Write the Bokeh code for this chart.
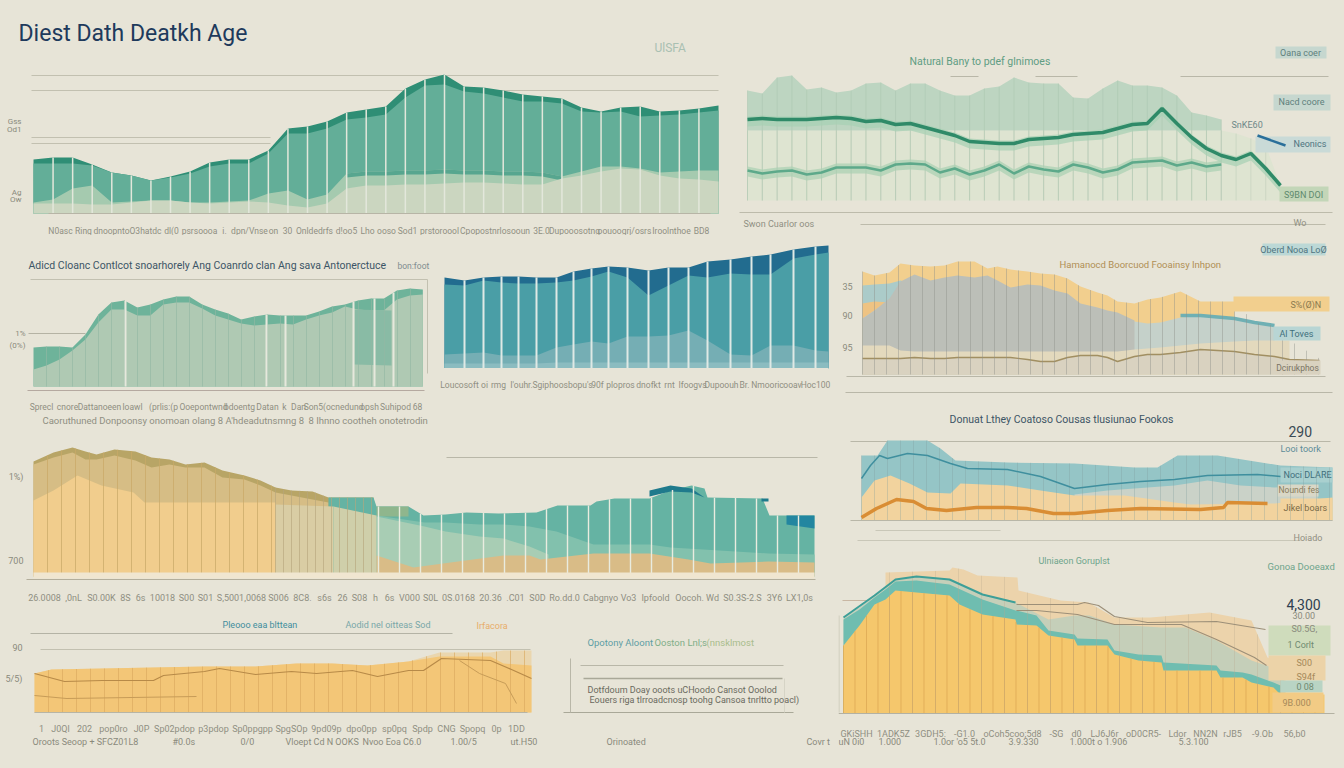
from bokeh.plotting import figure
from bokeh.layouts import row, column
from bokeh.models import Range1d, FixedTicker, AllLabels
from bokeh.core.properties import value
from bokeh.embed import file_html
from bokeh.resources import INLINE
import numpy as np

BG = "#e7e4d7"
FONT = "Roboto"

# ---------- data: panel A ----------
a_top = [54,56,56,49,41,38,33,37,42,51,54,54,63,85,87,92,101,104,107,125,134,139,127,126,123,119,117,115,106,102,106,107,102,103,105,108]
a_mid = [50,50,50,48,41,38,33,36,40,47,50,50,60,80,80,85,94,96,99,116,128,129,122,120,116,112,112,110,102,101,102,97,98,99,101,103]
a_lo1 = [11,14,25,28,11,12,13,13,11,11,12,13,20,23,14,19,40,42,42,43,43,44,43,43,42,42,41,37,42,47,47,45,41,42,43,43]
a_lo2 = [10,10,10,9,9,11,13,13,11,10,11,12,11,8,6,10,25,28,28,29,29,30,31,31,30,29,29,35,38,42,45,44,38,35,34,32]
a_ticks = ["N0asc","Ring","dnoopnto","O3hatdc","dl(0","psrsoooa","i.","dpn/Vnse","on","30","Onldedrfs","d!oo5","Lho","ooso","Sod1","prstoroool","Cpopostnrlos","ooun","3E.0","Dupooosotng","oouoogrj/osrs","Iroolnthoe","BD8"]

# ---------- data: panel G ----------
g_top = [110,107,123,125,111,113,108,110,117,118,110,117,117,110,105,105,112,114,123,118,117,117,103,102,112,120,115,115,113,105,88,85,81]
g_low = [70,70,70,70,70,70,70,70,70,70,70,70,70,70,70,70,70,70,70,70,70,70,70,70,70,70,70,70,70,70,70,70,70,67,62,55,15]
g_l1 = [81,82,81,81,81,82,83,82,79,80,76,77,73,69,65,59,58,57,57,61,62,63,66,67,68,72,76,77,92,77,63,52,45,41,47,32,15]
g_l2 = [30,27,29,30,26,28,33,33,33,30,36,37,36,28,32,26,30,36,27,34,31,29,36,33,28,31,38,39,40,35,38,34,36]

# ---------- data: panel B ----------
b_top = [39,40,40,39,52,72,84,86,79,82,87,90,90,82,77,73,67,70,72,71,71,71,75,80,82,86,88,88,96,98,97]
b_light = [17,21,27,36,47,64,77,77,71,71,82,84,84,78,71,67,63,61,62,63,62,67,71,74,80,77,76,76,87,91,92]
b_bandx = [321,358]
b_band = [77,76]
b_bandlow = [22,21]
b_white = [92,233,252,320,341,360]

# ---------- data: panel C ----------
c_x = [0,20,39,57,74,92,112,129,147,164,183,204,224,244,263,286,307,326,349,371,384]
c_top = [91,88,91,92,92,91,91,97,100,102,101,98,101,101,107,109,112,114,119,122,123]
c_mid = [84,83,88,86,85,85,86,88,92,97,91,73,83,93,91,95,94,94,110,114,116]
c_low = [14,15,16,13,13,13,21,24,27,25,32,32,33,38,28,14,13,23,23,18,17]
c_base = [5,5,5,5,5,5,6,6,6,6,6,6,6,6,6,6,6,6,6,6,6]

# ---------- data: panel H ----------
h_x = [0,12,27,38,52,68,82,95,112,125,135,148,165,178,192,205,218,235,245,255,272,285,298,318,338,372,392,412,427,457]
h_yellow = [103,99,102,111,109,108,109,113,113,106,108,105,103,101,100,96,88,82,79,73,71,75,77,83,73,73]
h_blue = [89,90,91,94,90]
h_yel2 = [71,73,72]
h_pale = [56,64,75,75,75,75,75,75,75,75,75,75,75,75,75,75,68,64,62,60,53,51,52,57,59,56,52,49]
h_gray = [56,64,76,93,100,94,97,99,97,99,94,87,90,89,84,81,71,67,64,62,54]
h_beige = [29,29,29,24,23,23,23,23,23,23,23,23,23,23,23,23,23,23,23,23,25,26,27,29,31,33,34,34,34]
h_tan = [16,16,16,16,17,16,16,17,17,17,17,17,15,13,13,17,19,19,17,13,18,20,20,22,25,23,20,18,15,14]

# ---------- data: panel D ----------
d_x = [0,20,39,52,63,81,102,118,136,152,171,189,211,227,242,258,279,295,319,340,343,375,390,412,433,465,503,524,557,563,581,616,637,658,671,674,729,736,753,781]
d_top = [115,124,129,125,122,127,125,119,117,112,114,106,101,96,89,86,85,79,79,79,70,70,61,62,64,63,64,71,71,75,78,78,86,91,88,79,78,61,61,61]
d_midtan = [112,119,124,117,117,121,116,109,112,109,109,99,97,91,84,81,77,74]
d_yx = [0,20,44,68,100,111,242]
d_yel = [76,86,101,91,84,74,74]
d_bx = [242,300]
d_blend = [72,70]
d_b2x = [300,343]
d_blend2 = [70,61]
d_rx = [343,391,412,446,470,496,523,560,581,616,637,735,781]
d_mid = [61,54,54,52,52,50,45,32,32,32,29,23,22]
d_px = [343,391,412,446,470,496,515]
d_pale = [60,50,45,40,38,30,22]
d_tx = [343,380,417,470,496,507,560,616,655,677,735,781]
d_tan = [21,9,14,21,21,17,23,23,17,13,15,14]

# ---------- data: panel I ----------
i_bx = [0,16,26,39,66,79,94,146,213,273,296,316,339,356,419,471]
i_blue = [65,65,80,80,80,72,60,58,57,53,53,65,65,65,55,53]
i_ox = [0,13,29,48,66,89,99,146,179,213,263,313,329,413,471]
i_orange = [23,40,45,37,28,27,37,35,30,25,25,18,16,17,23]
i_gx = [213,246,313,346,379,413,456]
i_grey = [26,30,35,40,35,33,35]
i_lx = [0,9,18,26,46,66,89,106,146,179,213,246,279,313,346,396,419]
i_line = [42,55,65,62,67,65,57,52,51,44,32,36,39,41,45,46,44]
i_ox2 = [0,15,35,52,65,85,115,146,165,192,213,246,279,339,362,366,406]
i_oline = [3,12,21,19,12,10,13,13,12,7,7,10,12,11,13,18,17]

# ---------- data: panel E ----------
e_x = [0,17,68,119,170,221,262,298,333,374,405,456,469,497]
e_area = [39,43,44,45,46,46,49,49,47,51,56,56,49,47]
e_peach = [39,43,44,45,46,46,49,49,47,51,60,60,62,62]
e_lx = [0,30,68,119,129,170,185,221,257,282,318,343,374,389,407,456,477,497]
e_l1 = [39,31,32,32,37,41,44,38,41,39,42,36,42,42,54,52,43,34]
e_l2x = [0,32,162]
e_l2 = [17,14,16]
e_l3x = [425,445,471,482]
e_l3 = [52,39,29,9]

# ---------- data: panel J ----------
j_x = [0,16,31,42,52,73,106,116,139,172,173,193,205,231,234,264,271,295,318,320,373,377,399,408,430,437,481]
j_yel = [68,88,109,114,123,121,118,109,99,94,89,88,78,74,68,68,59,53,51,43,43,36,36,31,26,19,19]
j_tx = [0,16,31,42,52,73,106,139,172,173,193,205,231,234,264,271,295,318,320,373,377,399,408,430,437]
j_teal = [94,104,116,124,132,133,129,114,103,103,98,83,79,75,74,63,59,58,51,48,43,41,39,31,28]
j_gx = [0,16,31,42,52,73,106,139,172,205,231,246,271,318,342,373,408,437,442]
j_grey = [96,106,118,126,134,137,134,119,111,94,98,98,89,86,86,73,53,43,29]
j_px = [42,106,109,120,134,174,175,217,245,271,307,366,408,424,442]
j_peach = [141,143,146,144,138,136,123,113,111,96,96,101,93,56,46]
j_ax = [173,234,241,255,271,304,373,422]
j_a = [109,109,111,108,97,91,92,84]
j_bx = [173,193,234,271,338,373,411,423]
j_b = [103,103,99,89,89,74,56,48]
j_lx = [0,31,52,73,106,139,172]
j_l = [96,118,134,137,134,119,111]


class Panel:
    """A tile of the page; data x = distance from the chart's left end, data y = height above baseline."""
    def __init__(self, x0, y0, x1, y1, xl, base):
        self.xl, self.base = xl, base
        self.p = figure(width=x1-x0, height=y1-y0, output_backend="svg", toolbar_location=None,
                        x_range=Range1d(x0-xl, x1-xl), y_range=Range1d(base-y1, base-y0),
                        min_border=0, outline_line_color=None,
                        background_fill_color=BG, border_fill_color=BG)
        self.p.grid.visible = False
        self.p.xaxis.visible = False
        self.p.yaxis.visible = False

    def area(self, x, top, color, bottom=0, alpha=1.0):
        n = len(top)
        self.p.varea(x=list(x)[:n], y1=[bottom]*n if np.isscalar(bottom) else list(bottom)[:n], y2=top,
                     fill_color=color, fill_alpha=alpha)

    def line(self, x, y, color, w=1.0, alpha=1.0):
        self.p.line(list(x)[:len(y)], y, line_color=color, line_width=w, line_alpha=alpha)

    def seps(self, xs, ex, ey, color, w=1.0, alpha=1.0):
        xs = np.asarray(xs, float)
        self.p.segment(xs, 0*xs, xs, np.interp(xs, ex, ey), line_color=color, line_width=w, line_alpha=alpha)

    def rule(self, px0, px1, py, color="#b9b7a8", w=1.0):
        self.p.line([px0-self.xl, px1-self.xl], [self.base-py]*2, line_color=color, line_width=w)

    def vrule(self, px, py0, py1, color="#b9b7a8", w=1.0):
        self.p.line([px-self.xl]*2, [self.base-py0, self.base-py1], line_color=color, line_width=w)

    def box(self, px0, px1, py0, py1, color, alpha=1.0):
        self.p.quad(left=[px0-self.xl], right=[px1-self.xl], top=[self.base-py0], bottom=[self.base-py1],
                    fill_color=color, fill_alpha=alpha, line_color=None)

    def t(self, px, py, s, size=9, color="#8a8a7c", align="left", style="normal"):
        self.p.text([px-self.xl], [self.base-py], text=[s], text_font=value(FONT),
                    text_font_size=f"{size}px", text_color=color, text_align=align,
                    text_baseline="middle", text_font_style=style)

    def xstrip(self, words, px0, px1, axis_py, label_py, color="#8f8f82", size=8.5, axis_color="#b7b5a6", ax0=None, ax1=None):
        """Real x axis: one tick per word, set out by word length so the strip reads as a run of text."""
        lens = np.array([len(w)+2 for w in words], float)
        edges = np.concatenate([[0], np.cumsum(lens)]) / lens.sum() * (px1-px0)
        ticks = [int(round(px0-self.xl+(edges[i]+edges[i+1])/2)) for i in range(len(words))]
        ax = self.p.xaxis[0]
        ax.visible = True
        ax.fixed_location = self.base-axis_py
        ax.ticker = FixedTicker(ticks=ticks)
        ax.major_label_overrides = {k: w for k, w in zip(ticks, words)}
        ax.major_label_policy = AllLabels()
        ax.major_tick_line_color = None
        ax.minor_tick_line_color = None
        ax.major_label_text_font = FONT
        ax.major_label_text_font_size = f"{size}px"
        ax.major_label_text_color = color
        ax.major_label_standoff = int(label_py-axis_py-size/2-1)
        ax.axis_line_color = axis_color
        a0 = px0 if ax0 is None else ax0
        a1 = px1 if ax1 is None else ax1
        ax.bounds = (a0-self.xl, a1-self.xl)

    def yticks(self, labels, px, color="#8a8a7c", size=9):
        """Real y axis: labels is {pixel row: text}."""
        ax = self.p.yaxis[0]
        ax.visible = True
        ax.fixed_location = px-self.xl
        ticks = [int(self.base-k) for k in labels]
        ax.ticker = FixedTicker(ticks=ticks)
        ax.major_label_overrides = {t: s for t, s in zip(ticks, labels.values())}
        ax.major_label_policy = AllLabels()
        ax.major_tick_line_color = None
        ax.minor_tick_line_color = None
        ax.axis_line_color = None
        ax.major_label_text_font = FONT
        ax.major_label_text_font_size = f"{size}px"
        ax.major_label_text_color = color
        ax.major_label_standoff = 2


# ---------- A ----------
A = Panel(0, 0, 738, 235, 33, 213)
A.t(18, 33, "Diest Dath Deatkh Age", 23, "#1e3a5c", style="normal")
A.t(654, 47, "UlSFA", 12, "#a9c0b2")
for py, e in [(75, 718), (90, 718), (137, 270), (143, 270)]:
    A.rule(31, e, py, "#c2c0b0", 1.2)
ax_ = np.arange(len(a_top))*685/35
A.area(ax_, a_top, "#2f8e75")
A.area(ax_, a_mid, "#63ae98")
A.area(ax_, a_lo1, "#a5caaf")
A.area(ax_[16:28], a_lo1[16:28], "#57a68f", bottom=np.array(a_lo1[16:28])-4)
A.area(ax_, a_lo2, "#cbd6c0")
A.seps(ax_[1:-1], ax_, a_top, "#e3e7db", 1.5)
A.xstrip(a_ticks, 48, 710, 213, 225)
A.yticks({121: "Gss", 129: "Od1", 192: "Ag", 199: "Ow"}, 29, size=8)

# ---------- G ----------
G = Panel(738, 0, 1336, 235, 747, 200)
gx = np.arange(37)*533/36
G.t(909, 61, "Natural Bany to pdef glnimoes", 10.5, "#5f9d83")
G.rule(950, 978, 76); G.rule(1035, 1077, 76); G.rule(1180, 1328, 76)
G.area(gx, g_low, "#dee4d1")
G.area(gx, g_top, "#bdd5c1", bottom=g_low)
G.seps(gx[:-1], gx, g_low, "#bfcdb9", 0.7, 0.8)
G.seps(gx[:33], gx[:33], g_top, "#a8c4ae", 0.7, 0.7)
G.area(gx, np.array(g_l1)+3, "#a7d0b4", bottom=np.array(g_l1)-7, alpha=0.7)
G.area(gx, np.array(g_l2)+4, "#a9d0b2", bottom=np.array(g_l2)-6, alpha=0.7)
G.line(gx, g_l1, "#2f8a68", 3.5)
G.line(gx, g_l2, "#5da98a", 2.5)
G.box(1275, 1326, 46, 58, "#c6d7cf"); G.t(1300, 52, "Oana coer", 9, "#5e7f7c", "center")
G.box(1273, 1330, 94, 110, "#c6d7cf"); G.t(1301, 101, "Nacd coore", 9, "#5e7f7c", "center")
G.t(1231, 124, "SnKE60", 9, "#6d8888")
G.box(1255, 1330, 136, 152, "#c9dad7"); G.t(1293, 143, "Neonics", 9, "#4f7480")
G.p.line([1257-747, 1285-747], [200-135, 200-145], line_color="#2a6f9a", line_width=2.5)
G.box(1279, 1328, 186, 201, "#c3d6b8"); G.t(1303, 194, "S9BN DOI", 9, "#5e8a6e", "center")
G.rule(739, 1332, 212, "#bdbbab")
G.rule(860, 1325, 224, "#bdbbab")
G.t(743, 223, "Swon Cuarlor oos", 9, "#8f8f82")
G.t(1293, 222, "Wo", 9, "#8f8f82")

# ---------- B ----------
B = Panel(0, 235, 438, 437, 33, 386)
bx_ = np.arange(31)*(1168/3)/30
B.t(28, 265, "Adicd Cloanc Contlcot snoarhorely Ang Coanrdo clan Ang sava Antonerctuce", 10.5, "#3c5566")
B.t(397, 265, "bon:foot", 8.5, "#7f8d90")
B.rule(30, 427, 279, "#c2c0b0"); B.vrule(427, 279, 373, "#c2c0b0")
B.rule(28, 85, 333, "#b5b3a4")
B.area(bx_, b_top, "#6eb39a")
B.area(bx_, b_light, "#afc9b3")
B.area(b_bandx, b_band, "#89bba5", bottom=b_bandlow)
B.seps(np.arange(1, 30)*13.0, bx_, b_top, "#93b8a4", 0.8, 0.8)
B.seps(b_white, bx_, b_top, "#e6e8dc", 2)
B.xstrip(["Sprecl","cnore","Dattanoeen","loawl","(prlis:(p","Ooepontwnd","bdoentg","Datan","k","Dan","Son5(ocnedund","opsh","Suhipod","68"],
         27, 424, 390, 401, axis_color="#b5a9a0")
B.t(42, 420, "Caoruthuned Donpoonsy onomoan olang 8 A'hdeadutnsmng 8", 9.5, "#8f8f82")
B.t(308, 420, "8 Ihnno cootheh onotetrodin", 9.5, "#8f8f82")
B.yticks({333: "1%", 345: "(0%)"}, 33, size=8)

# ---------- C ----------
C = Panel(438, 235, 838, 437, 444, 368)
C.area(c_x, c_top, "#226c8f")
C.area(c_x, c_mid, "#4a9ea6")
C.area(c_x, c_low, "#75aeb4")
C.area(c_x, c_base, "#8bbcc0")
C.seps(c_x[1:-1], c_x, c_top, "#dfe9e5", 2)
C.xstrip(["Loucosoft","oi","rmg","I'ouhr.","Sgiphoosbopu's","90f","plopros","dnofkt","rnt","Ifoogvs","Dupoouh","Br.","Nmooric","ooav","Hoc100"],
         441, 828, 368, 379, axis_color=BG)

# ---------- H ----------
H = Panel(838, 235, 1336, 405, 862, 374)
H.t(1059, 264, "Hamanocd Boorcuod Fooainsy Inhpon", 9.5, "#b08f55")
H.box(1262, 1325, 243, 255, "#bcd8d6"); H.t(1293, 249, "Oberd Nooa LoØ", 9, "#4f7480", "center")
H.area(h_x, h_yellow, "#f2cf8e")
H.area(h_x, h_blue, "#abcbc9")
H.area(h_x, h_yel2, "#eec383")
H.area(h_x, h_pale, "#c5d1ca")
H.area(h_x, h_gray, "#bcbfb8")
H.area(h_x, h_beige, "#e3d9bd")
H.area(h_x, h_tan, "#d9d2c0")
H.line(h_x, h_tan, "#a18f62", 1.4)
H.line(h_x[23:28], [59, 59, 56, 52, 49], "#6fb0b4", 3.5)
H.seps(np.arange(0, 460, 12.0), h_x, [max(a, b) for a, b in zip(h_yellow+h_pale[26:]+[34, 16], h_pale+[34, 16])], "#8f918a", 0.8, 0.55)
H.box(1233, 1329, 296, 311, "#f2cf8e"); H.t(1290, 304, "S%(Ø)N", 9, "#8b7a4e")
H.box(1273, 1320, 326, 340, "#b8d5d4"); H.t(1296, 333, "Al Toves", 9, "#3f6f7c", "center")
H.box(1274, 1320, 360, 374, "#d9d2c0"); H.t(1297, 367, "Dcirukphos", 8.5, "#7a7464", "center")
H.yticks({286: "35", 315: "90", 347: "95"}, 860)
H.xstrip(["·"], 846, 1325, 376, 388, color=BG, axis_color="#b9b7a8")
H.rule(845, 1332, 392)

# ---------- D ----------
D = Panel(0, 437, 838, 610, 33, 576)
D.rule(446, 817, 457, "#b9b7a8", 1.2)
D.area(d_x[:20], d_top[:20], "#b8a566")
D.area(d_x[:18], d_midtan, "#d6bd85")
D.area(d_x[17:], d_top[17:], "#65b3a3")
D.area(d_x[20:22], [70, 70], "#8fb68d", bottom=[60, 60])
D.area(d_rx, d_mid, "#82c1ad")
D.area(d_px, d_pale, "#a8cdb4")
D.area(d_bx, d_blend, "#d9cda4")
D.area(d_b2x, d_blend2, "#cfcfaa")
D.area(d_yx, d_yel, "#f1cd8d")
D.area(d_tx, d_tan, "#d9bc87")
D.area(d_x[31:35], [86, 91, 88, 79], "#1f7a8c", bottom=[80, 85, 84, 79])
D.area([728, 735], [78, 78], "#1f7a8c", bottom=[75, 75])
D.area([753, 781], [61, 61], "#2386a0", bottom=[52, 48])
D.seps(np.arange(14, 242, 14.0), d_x, d_top, "#c9a967", 0.9, 0.8)
D.seps(np.arange(242, 345, 8.0), d_x, d_top, "#b5a67c", 0.9, 0.7)
D.seps(np.arange(345, 780, 21.0), d_x, d_top, "#e9ecdf", 1.4)
D.box(33, 814, 572, 578, "#f0e6d0")
D.xstrip(["26.0008",",0nL","S0.00K","8S","6s","10018","S00","S01","S,5001,0068","S006","8C8.","s6s","26","S08","h","6s","V000","S0L","0S.0168","20.36",".C01","S0D","Ro.dd.0","Cabgnyo","Vo3","Ipfoold","Oocoh.","Wd","S0.3S-2.S","3Y6","LX1,0s"],
         26, 815, 579, 592, axis_color="#b3ae9b", size=9)
D.yticks({476: "1%)", 560: "700"}, 31)

# ---------- I ----------
I = Panel(838, 405, 1336, 548, 861, 520)
I.t(949, 419, "Donuat Lthey Coatoso Cousas tlusiunao Fookos", 10.5, "#3d5566")
I.rule(850, 1330, 441)
I.t(1288, 431, "290", 14, "#3a4a55")
I.t(1280, 448, "Looi toork", 9, "#5d8c98")
I.area(i_bx, i_blue, "#95c5c6")
I.area(i_gx, i_grey, "#cad2c8", bottom=0)
I.area(i_ox, i_orange, "#f2d39e")
I.box(1280, 1332, 467, 482, "#a9d0cf"); I.t(1283, 474, "Noci DLARE", 9, "#3f6f7c")
I.box(1277, 1318, 484, 496, "#d9d7c6"); I.t(1278, 489, "Noundi fes", 8.5, "#8a7c5c")
I.box(1280, 1332, 498, 520, "#f2d39e"); I.t(1283, 507, "Jikel boars", 9, "#7a6b46")
I.seps(np.arange(0, 470, 13.0), i_bx, i_blue, "#7e9b9d", 0.7, 0.45)
I.line(i_lx, i_line, "#3f8f9e", 1.5)
I.line(i_ox2, i_oline, "#d98d34", 3.5)
I.xstrip(["·"], 850, 1332, 520, 530, color=BG, axis_color="#b9b7a8")
I.rule(875, 1000, 530, "#c9c7b8")
I.rule(857, 1300, 540, "#c9c7b8")
I.t(1293, 537, "Hoiado", 9, "#8f8f82")

# ---------- E ----------
E = Panel(0, 610, 548, 760, 34, 712)
E.t(222, 624, "Pleooo eaa blttean", 9, "#3f8e9d")
E.t(345, 624, "Aodid nel oitteas Sod", 9, "#79a7a8")
E.t(476, 625, "Irfacora", 9, "#e8ad6a")
E.rule(30, 452, 633, "#b4b3a5", 1.2)
E.rule(40, 530, 649, "#c2c0b0")
E.area(e_x, e_peach, "#ead6ae")
E.area(e_x, e_area, "#f3c677")
E.seps(np.arange(14, 497, 14.0), e_x, e_peach, "#d9a95f", 0.8, 0.8)
E.line(e_lx, e_l1, "#b78a48", 1.2)
E.line(e_l2x, e_l2, "#c79c58", 1.2)
E.line(e_l3x, e_l3, "#c79c58", 1.0)
E.xstrip(["1","J0Ql","202","pop0ro","J0P","Sp02pdop","p3pdop","Sp0ppgpp","SpgSOp","9pd09p","dpo0pp","sp0pq","Spdp","CNG","Spopq","0p","1DD"],
         34, 527, 712, 723, size=9)
E.yticks({647: "90", 678: "5/5)"}, 30)
for x_, s_ in [(32, "Oroots Seoop + SFCZ01L8"), (172, "#0.0s"), (240, "0/0"), (285, "Vloept Cd N OOKS"),
               (362, "Nvoo Eoa C6.0"), (450, "1.00/5"), (510, "ut.H50")]:
    E.t(x_, 741, s_, 9)

# ---------- F ----------
F = Panel(548, 610, 838, 760, 570, 712)
F.t(587, 642, "Opotony Aloont", 9.5, "#5e9ea4")
F.t(654, 642, "Ooston Lnl;s", 9.5, "#7fae88")
F.t(706, 642, "(nnsklmost", 9.5, "#a9bd8c")
F.rule(580, 783, 665); F.rule(583, 782, 678, "#a9a898", 1.4)
F.rule(563, 793, 712, "#a9a898", 1.2)
F.vrule(570, 658, 712); F.vrule(784, 678, 712, "#d6d4c6")
F.t(587, 689, "Dotfdoum Doay ooots uCHoodo Cansot Ooolod", 9, "#6a6a5e")
F.t(589, 699, "Eouers riga tlrroadcnosp toohg Cansoa tnrltto poacl)", 9, "#6a6a5e")
F.t(606, 741, "Orinoated", 9)
F.t(806, 741, "Covr t", 9)

# ---------- J ----------
J = Panel(838, 548, 1336, 760, 843, 713)
J.t(1038, 560, "Ulniaeon Goruplst", 9, "#6ea58c")
J.t(1267, 566, "Gonoa Dooeaxd", 9.5, "#6ea58c")
J.rule(842, 870, 600, "#c9b7a3")
J.area(j_px, j_peach, "#ecd3ab")
J.area(j_gx, j_grey, "#c1ceba", alpha=0.9)
J.area(j_tx, j_teal, "#6fbdb0")
J.area(j_x, j_yel, "#f5c76c")
J.seps(np.arange(0, 480, 11.5), j_x, j_yel, "#dda954", 0.9, 0.9)
J.seps(np.arange(46, 440, 23.0), j_px, j_peach, "#b9a98c", 0.6, 0.5)
J.line(j_ax, j_a, "#9c8f78", 1.1)
J.line(j_bx, j_b, "#9c8f78", 1.1)
J.line(j_lx, j_l, "#3d9f98", 2)
J.box(1268, 1330, 625, 655, "#cfdcbc")
J.box(1268, 1325, 655, 680, "#ecd3a8")
J.box(1280, 1322, 680, 692, "#b9d4c4")
J.box(1272, 1323, 692, 712, "#f2cb85")
J.vrule(838.5, 615, 712, "#c9c7b8")
J.t(1286, 604, "4,300", 14, "#2e4050")
J.t(1292, 615, "30.00", 9)
J.t(1291, 628, "S0.5G,", 9)
J.t(1287, 644, "1 Corlt", 9, "#6f8a70")
J.t(1296, 662, "S00", 9, "#a5895a")
J.t(1296, 676, "S94f", 9, "#a5895a")
J.t(1296, 686, "0 08", 9, "#6f8a70")
J.t(1282, 702, "9B.000", 9, "#a5895a")
J.xstrip(["GKiSHH","1ADK5Z","3GDH5:","-G1.0","oCoh5coo;5d8","-SG","d0","LJ6J6r","oD0CR5-","Ldor","NN2N","rJB5","-9.Ob","56,b0"],
         838, 1310, 713, 728, axis_color="#b3b1a2", ax1=1334, size=9)
for x_, s_ in [(838, "uN 0i0"), (878, "1.000"), (933, "1.0or 'o5 5t.0"), (1008, "3.9.330"), (1069, "1.000t o 1.906"), (1178, "5.3.100")]:
    J.t(x_, 741, s_, 9)

layout = column(
    row(A.p, G.p),
    row(column(row(B.p, C.p), D.p, row(E.p, F.p)), column(H.p, I.p, J.p)),
)

html = file_html(layout, INLINE, title="Diest Dath Deatkh Age")
html = html.replace("</head>", f"<style>html,body{{background:{BG};}}</style></head>", 1)
open("out.html", "w").write(html)
